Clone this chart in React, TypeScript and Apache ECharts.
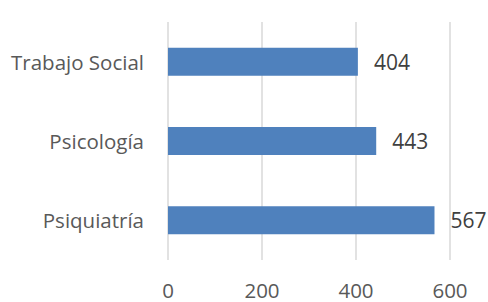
import React, { useEffect, useRef } from "react";
import * as echarts from "echarts";

const categories = ["Trabajo Social", "Psicología", "Psiquiatría"];
const values = [404, 443, 567];
const xTicks = [0, 200, 400, 600];

export default function App() {
  const ref = useRef<HTMLDivElement>(null);
  useEffect(() => {
    if (!ref.current) return;
    const chart = echarts.init(ref.current, undefined, { renderer: "svg" });
    const font = "'Open Sans', sans-serif";
    chart.setOption({
      animation: false,
      backgroundColor: "#ffffff",
      grid: { left: 168, right: 38, top: 22, bottom: 42, containLabel: false },
      xAxis: {
        type: "value",
        min: xTicks[0],
        max: xTicks[xTicks.length - 1],
        interval: 200,
        axisLine: { show: false },
        axisTick: { show: false },
        splitLine: { show: true, lineStyle: { color: "#d9d9d9", width: 1.5 } },
        axisLabel: { color: "#595959", fontSize: 20.5, fontFamily: font, margin: 19 },
      },
      yAxis: {
        type: "category",
        data: categories,
        inverse: true,
        axisLine: { show: false },
        axisTick: { show: false },
        splitLine: { show: false },
        axisLabel: { color: "#595959", fontSize: 20.5, fontFamily: font, margin: 24 },
      },
      series: [
        {
          type: "bar",
          data: values,
          barWidth: 28,
          itemStyle: { color: "#4f81bd" },
          label: {
            show: true,
            position: "right",
            distance: 16,
            color: "#404040",
            fontSize: 21,
            fontFamily: font,
          },
        },
      ],
    });
    return () => chart.dispose();
  }, []);
  return <div ref={ref} style={{ width: 488, height: 302, position: "absolute", left: 0, top: 0 }} />;
}
